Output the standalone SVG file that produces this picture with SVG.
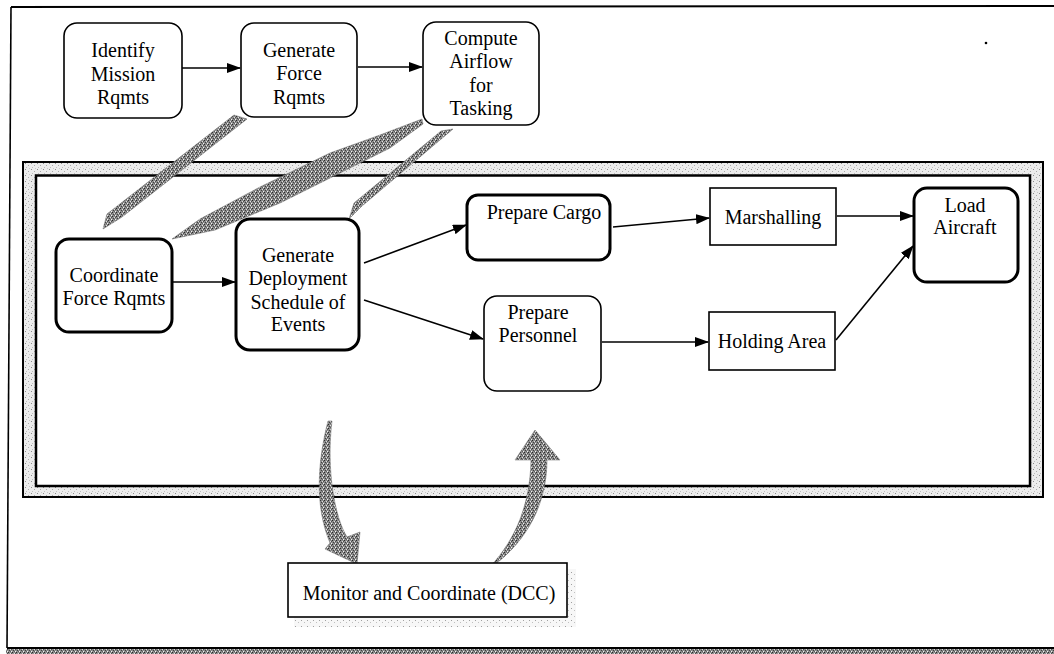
<svg xmlns="http://www.w3.org/2000/svg" width="1054" height="654" viewBox="0 0 1054 654">
<style>
.t{font-family:"Liberation Serif","Times New Roman",serif;font-size:20px;fill:#000;text-anchor:middle}
.thin{fill:#fff;stroke:#000;stroke-width:1.6}
.thick{fill:#fff;stroke:#000;stroke-width:3}
.ln{fill:none;stroke:#000;stroke-width:1.6;marker-end:url(#ah)}
.rib{fill:url(#stip);stroke:#666;stroke-width:0.5}
</style>
<defs>
<marker id="ah" markerWidth="14" markerHeight="10" refX="13" refY="5" orient="auto" markerUnits="userSpaceOnUse"><path d="M0,0 L14,5 L0,10 z" fill="#000"/></marker>
<pattern id="stip" width="4" height="4" patternUnits="userSpaceOnUse"><rect width="4" height="4" fill="#8c8c8c"/><rect x="0" y="0" width="1" height="1" fill="#2a2a2a"/><rect x="2" y="1" width="1" height="1" fill="#e0e0e0"/><rect x="1" y="2" width="1" height="1" fill="#404040"/><rect x="3" y="3" width="1" height="1" fill="#f4f4f4"/><rect x="3" y="1" width="1" height="1" fill="#505050"/><rect x="2" y="3" width="1" height="1" fill="#5e5e5e"/></pattern>
<pattern id="band" width="6" height="6" patternUnits="userSpaceOnUse"><rect width="6" height="6" fill="#ececec"/><rect x="1" y="1" width="1" height="1" fill="#8a8a8a"/><rect x="4" y="3" width="1" height="1" fill="#a8a8a8"/><rect x="2" y="5" width="1" height="1" fill="#bdbdbd"/><rect x="5" y="0" width="1" height="1" fill="#c8c8c8"/></pattern>
<pattern id="shade" width="6" height="6" patternUnits="userSpaceOnUse"><rect width="6" height="6" fill="#f7f7f7"/><rect x="1" y="2" width="1" height="1" fill="#a0a0a0"/><rect x="4" y="4" width="1" height="1" fill="#c0c0c0"/></pattern>
</defs>
<rect width="1054" height="654" fill="#fff"/>

<g id="page-frame">
<line x1="11" y1="7" x2="1054" y2="6" stroke="#000" stroke-width="2"/>
<line x1="11" y1="7" x2="7" y2="648" stroke="#000" stroke-width="1.6"/>
<rect x="6" y="649" width="1048" height="5" fill="url(#stip)"/>
<line x1="7" y1="648" x2="1054" y2="648" stroke="#000" stroke-width="2"/>
<circle cx="986" cy="43" r="1.3" fill="#000"/>
</g>

<g id="process-frame">
<rect x="23" y="162" width="1020" height="335" fill="url(#band)" stroke="#000" stroke-width="2"/>
<rect x="36" y="175.5" width="994" height="310.5" fill="#fff" stroke="#000" stroke-width="2.5"/>
</g>

<g id="connectors">
<polygon class="rib" points="234,115 247,119 122,217 103,229 107,214"/>
<polygon class="rib" points="422,119 380,135 330,153 260,187 200,219 172,239 215,230 280,203 340,173 390,148 423,124"/>
<polygon class="rib" points="441,131 453,129 362,206 349,219 354,203"/>
<line class="ln" x1="182" y1="68" x2="240" y2="68"/>
<line class="ln" x1="358" y1="67" x2="422" y2="67"/>
<line class="ln" x1="173" y1="282" x2="235" y2="282"/>
<line class="ln" x1="364" y1="263" x2="466" y2="225"/>
<line class="ln" x1="364" y1="300" x2="483" y2="339"/>
<line class="ln" x1="613" y1="227" x2="709" y2="218"/>
<line class="ln" x1="837" y1="216" x2="913" y2="216"/>
<line class="ln" x1="602" y1="342" x2="708" y2="342"/>
<line class="ln" x1="836" y1="340" x2="913" y2="246"/>
<path class="rib" d="M328,421 C318,460 314,505 330,543 L325,549 L357,564 L360,532 L347,537 C335,518 326,470 332,421 Z"/>
<path class="rib" d="M486,571 C512,545 530,510 531,460 L515,460 L535,430 L560,460 L547,460 C547,500 530,540 490,568 Z"/>
</g>

<g id="identify-mission">
<rect class="thin" x="64" y="23" width="118" height="95" rx="13"/>
<text class="t" x="123" y="57">Identify</text>
<text class="t" x="123" y="81">Mission</text>
<text class="t" x="123" y="104">Rqmts</text>
</g>
<g id="generate-force">
<rect class="thin" x="241" y="23" width="116" height="94" rx="13"/>
<text class="t" x="299" y="57">Generate</text>
<text class="t" x="299" y="80">Force</text>
<text class="t" x="299" y="104">Rqmts</text>
</g>
<g id="compute-airflow">
<rect class="thin" x="423" y="22" width="116" height="103" rx="13"/>
<text class="t" x="481" y="45">Compute</text>
<text class="t" x="481" y="68">Airflow</text>
<text class="t" x="481" y="92">for</text>
<text class="t" x="481" y="115">Tasking</text>
</g>
<g id="coordinate-force">
<rect class="thick" x="56" y="239" width="116" height="93" rx="13"/>
<text class="t" x="114" y="282">Coordinate</text>
<text class="t" x="114" y="305">Force Rqmts</text>
</g>
<g id="generate-deployment">
<rect class="thick" x="236" y="219" width="123" height="131" rx="14"/>
<text class="t" x="298" y="262">Generate</text>
<text class="t" x="298" y="285">Deployment</text>
<text class="t" x="298" y="309">Schedule of</text>
<text class="t" x="298" y="331">Events</text>
</g>
<g id="prepare-cargo">
<rect class="thick" x="467" y="195" width="143" height="65" rx="11"/>
<text class="t" x="544" y="219">Prepare Cargo</text>
</g>
<g id="prepare-personnel">
<rect class="thin" x="484" y="296" width="117" height="95" rx="13"/>
<text class="t" x="538" y="319">Prepare</text>
<text class="t" x="538" y="342">Personnel</text>
</g>
<g id="marshalling">
<rect class="thin" x="710" y="188" width="126" height="57"/>
<text class="t" x="773" y="224">Marshalling</text>
</g>
<g id="holding-area">
<rect class="thin" x="709" y="312" width="126" height="58"/>
<text class="t" x="772" y="348">Holding Area</text>
</g>
<g id="load-aircraft">
<rect class="thick" x="914" y="188" width="104" height="94" rx="13"/>
<text class="t" x="965" y="212">Load</text>
<text class="t" x="965" y="234">Aircraft</text>
</g>
<g id="monitor-coordinate">
<rect x="294" y="569" width="282" height="58" fill="url(#shade)"/>
<rect class="thin" x="288" y="563" width="279" height="54"/>
<text class="t" x="429" y="600">Monitor and Coordinate (DCC)</text>
</g>
</svg>
